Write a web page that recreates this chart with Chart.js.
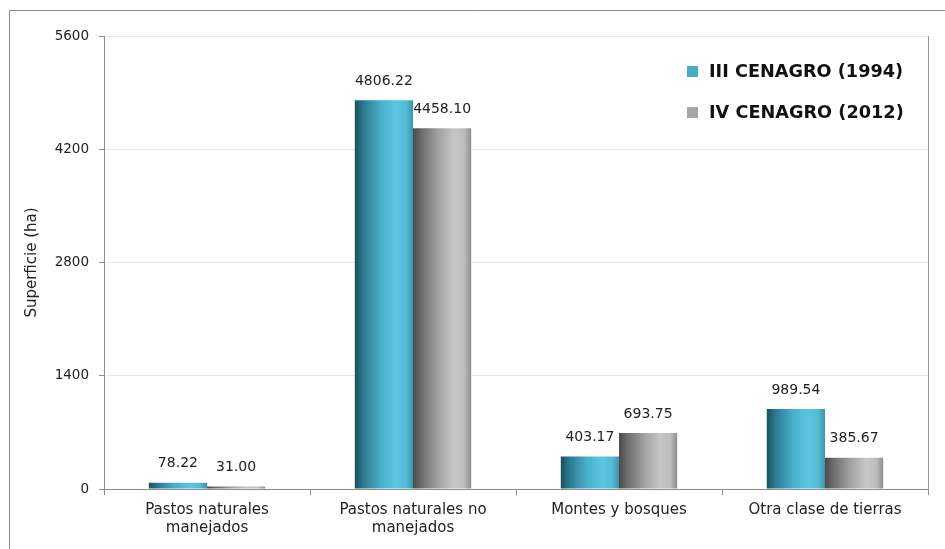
<!DOCTYPE html>
<html>
<head>
<meta charset="utf-8">
<script src="https://cdn.jsdelivr.net/npm/chart.js@4"></script>
<style>
  html, body { margin: 0; padding: 0; background: #fff; }
  #wrap { width: 945px; height: 549px; }
</style>
</head>
<body>
<div id="wrap"><canvas id="barchart" width="945" height="549"></canvas></div>
<script>
const categories = [
    ['Pastos naturales', 'manejados'],
    ['Pastos naturales no', 'manejados'],
    'Montes y bosques',
    'Otra clase de tierras'
];
const censo1994 = [78.22, 4806.22, 403.17, 989.54];
const censo2012 = [31.00, 4458.10, 693.75, 385.67];
const yTicks = [0, 1400, 2800, 4200, 5600];

const FONT = '"DejaVu Sans", sans-serif';

// cylinder-like shading, left edge dark, highlight right of centre
const shades = [
    { base: '#4BACC6', stops: ['#1b4f5f', '#2c7a8f', '#49afca', '#5bc5e1', '#55bbd6', '#3f94ab'] },
    { base: '#A5A5A5', stops: ['#4a4a4a', '#6e6e6e', '#a3a3a3', '#c6c6c6', '#bdbdbd', '#8e8e8e'] }
];
const stopPos = [0, 0.15, 0.45, 0.7, 0.88, 1];

const barShading = {
    id: 'barShading',
    beforeDatasetsDraw(chart) {
        const g = chart.ctx;
        chart.data.datasets.forEach((ds, di) => {
            chart.getDatasetMeta(di).data.forEach(bar => {
                const left = bar.x - bar.width / 2;
                const grad = g.createLinearGradient(left, 0, left + bar.width, 0);
                shades[di].stops.forEach((c, i) => grad.addColorStop(stopPos[i], c));
                bar.options.backgroundColor = grad;
            });
        });
    }
};

const valueLabels = {
    id: 'valueLabels',
    afterDatasetsDraw(chart) {
        const g = chart.ctx;
        g.save();
        g.font = '14px ' + FONT;
        g.fillStyle = '#222';
        g.textAlign = 'center';
        g.textBaseline = 'middle';
        chart.data.datasets.forEach((ds, di) => {
            chart.getDatasetMeta(di).data.forEach((bar, i) => {
                g.fillText(ds.data[i].toFixed(2), bar.x, bar.y - 19);
            });
        });
        g.restore();
    }
};

const frameAndLegend = {
    id: 'frameAndLegend',
    afterDraw(chart) {
        const g = chart.ctx;
        const area = chart.chartArea;
        g.save();
        // outer frame
        g.strokeStyle = '#8c8c8c';
        g.lineWidth = 1;
        g.beginPath();
        g.moveTo(9.5, 549);
        g.lineTo(9.5, 10.5);
        g.lineTo(945, 10.5);
        g.stroke();
        // right edge of plot
        g.strokeStyle = '#999';
        g.beginPath();
        g.moveTo(Math.round(area.right) + 0.5, area.top);
        g.lineTo(Math.round(area.right) + 0.5, area.bottom);
        g.stroke();
        // legend
        g.font = 'bold 17.7px ' + FONT;
        g.textBaseline = 'middle';
        g.textAlign = 'left';
        chart.data.datasets.forEach((ds, di) => {
            const y = 72 + di * 41;
            g.fillStyle = shades[di].base;
            g.fillRect(687, y - 6, 11, 11);
            g.fillStyle = '#111';
            g.fillText(ds.label, 709, y);
        });
        g.restore();
    }
};

new Chart(document.getElementById('barchart'), {
    type: 'bar',
    data: {
        labels: categories,
        datasets: [
            {
                label: 'III CENAGRO (1994)',
                data: censo1994,
                backgroundColor: () => shades[0].base
            },
            {
                label: 'IV CENAGRO (2012)',
                data: censo2012,
                backgroundColor: () => shades[1].base
            }
        ]
    },
    options: {
        responsive: false,
        animation: false,
        categoryPercentage: 0.565,
        barPercentage: 1,
        layout: { padding: { left: 23, right: 17, top: 36, bottom: 0 } },
        plugins: {
            legend: { display: false },
            tooltip: { enabled: false }
        },
        scales: {
            x: {
                border: { color: '#8c8c8c' },
                grid: { offset: true, drawOnChartArea: false, color: '#8c8c8c', tickLength: 6 },
                ticks: { color: '#222', padding: 6, font: { family: FONT, size: 15, lineHeight: 1.2 } },
                afterFit(scale) { scale.height = 60; }
            },
            y: {
                min: 0,
                max: 5600,
                afterBuildTicks(scale) { scale.ticks = yTicks.map(v => ({ value: v })); },
                border: { color: '#8c8c8c' },
                grid: { color: '#e8e8e8', tickColor: '#8c8c8c', tickLength: 5 },
                ticks: {
                    color: '#222',
                    padding: 10,
                    font: { family: FONT, size: 13.5 },
                    callback: v => String(v)
                },
                title: {
                    display: true,
                    text: 'Superficie (ha)',
                    color: '#222',
                    padding: 0,
                    font: { family: FONT, size: 15 }
                },
                afterFit(scale) { scale.width = 81; }
            }
        }
    },
    plugins: [barShading, valueLabels, frameAndLegend]
});
</script>
</body>
</html>
